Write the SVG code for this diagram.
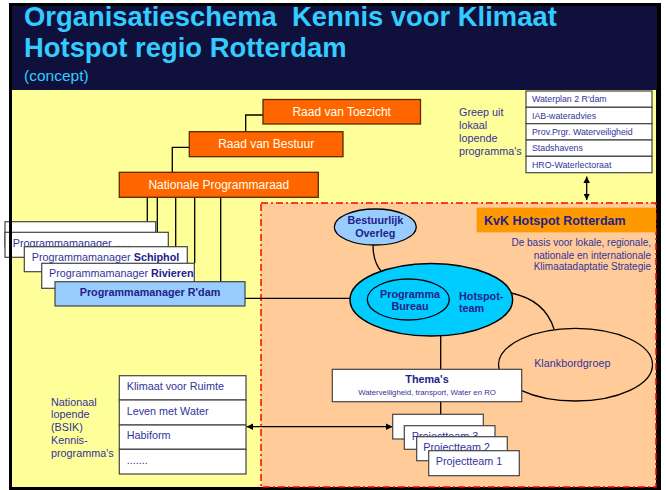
<svg xmlns="http://www.w3.org/2000/svg" width="666" height="490" viewBox="0 0 666 490">
<style>
text{font-family:"Liberation Sans",Arial,sans-serif;}
.t{fill:#333399;font-size:10.8px;}
.b{fill:#222288;font-size:10.8px;font-weight:bold;}
.org{fill:#ff6600;stroke:#5a2a00;stroke-width:1.3;}
.orgt{fill:#ffffee;font-size:12px;text-anchor:middle;}
.wb{fill:#ffffff;stroke:#444444;stroke-width:1.2;}
.ln{stroke:#000000;stroke-width:1.3;fill:none;}
.lst{font-size:8.8px;fill:#333399;}
</style>
<defs>
<marker id="ah" viewBox="0 0 10 10" refX="10" refY="5" markerWidth="5" markerHeight="5" orient="auto-start-reverse">
<path d="M0,0 L10,5 L0,10 z" fill="#000000"/>
</marker>
</defs>
<rect x="0" y="0" width="666" height="490" fill="#ffffff"/>
<rect x="9" y="3" width="652" height="487" fill="#000000"/>
<rect x="12" y="6" width="645" height="84" fill="#10103c"/>
<rect x="12" y="90" width="644" height="397" fill="#ffff99"/>
<g id="title">
<text x="24" y="26" font-size="27.4" font-weight="bold" fill="#33ccff" xml:space="preserve">Organisatieschema  Kennis voor Klimaat</text>
<text x="24" y="57" font-size="27.4" font-weight="bold" fill="#33ccff">Hotspot regio Rotterdam</text>
<text x="24" y="80.5" font-size="15.5" fill="#33ccff">(concept)</text>
</g>
<g id="kvk-region">
<rect x="261" y="203" width="395" height="284" fill="#ffcc99" stroke="#ff0000" stroke-width="1.5" stroke-dasharray="7 3 2 3"/>
</g>
<g id="connectors">
<path class="ln" d="M263,115 H245.7 V131.7"/>
<path class="ln" d="M189.3,147.3 H172.3 V172.3"/>
<line class="ln" x1="147.3" y1="197.3" x2="147.3" y2="221.7"/>
<line class="ln" x1="157.3" y1="197.3" x2="157.3" y2="232.3"/>
<line class="ln" x1="175.7" y1="197.3" x2="175.7" y2="246.7"/>
<line class="ln" x1="194.7" y1="197.3" x2="194.7" y2="263.3"/>
<line class="ln" x1="220.7" y1="197.3" x2="220.7" y2="281.7"/>
<line class="ln" x1="245" y1="298.3" x2="350" y2="298.3"/>
<path class="ln" stroke-width="1.8" d="M373,245 C373,258 376,265 381,271"/>
<path class="ln" stroke-width="1.8" d="M511,293 C535,298 548,310 554,329"/>
<line class="ln" x1="440.7" y1="335" x2="440.7" y2="369.3"/>
<line class="ln" x1="440.7" y1="401.7" x2="440.7" y2="414.3"/>
<line class="ln" x1="586.7" y1="176.5" x2="586.7" y2="200" marker-start="url(#ah)" marker-end="url(#ah)"/>
<line class="ln" x1="246.5" y1="426.7" x2="392.5" y2="426.7" marker-start="url(#ah)" marker-end="url(#ah)"/>
</g>
<g id="raad-van-toezicht">
<rect class="org" x="263" y="99.5" width="157.5" height="24.5"/>
<text class="orgt" x="341.7" y="116">Raad van Toezicht</text>
</g>
<g id="raad-van-bestuur">
<rect class="org" x="189.3" y="131.7" width="153.7" height="25"/>
<text class="orgt" x="266.2" y="148.4">Raad van Bestuur</text>
</g>
<g id="nationale-programmaraad">
<rect class="org" x="119.3" y="172.3" width="199" height="25"/>
<text class="orgt" x="218.8" y="189">Nationale Programmaraad</text>
</g>
<g id="pm-blank">
<rect class="wb" x="5" y="221.7" width="150.7" height="25"/>
</g>
<g id="pm-dots">
<rect class="wb" x="5" y="232.3" width="163.3" height="25"/>
<text class="t" x="12.7" y="247.3">Programmamanager .....</text>
</g>
<g id="pm-schiphol">
<rect class="wb" x="24.3" y="246.7" width="163" height="25"/>
<text class="t" x="31.7" y="261.2">Programmamanager <tspan font-weight="bold" fill="#222288">Schiphol</tspan></text>
</g>
<g id="pm-rivieren">
<rect class="wb" x="41.7" y="263.3" width="152.6" height="25"/>
<text class="t" x="49" y="276.6">Programmamanager <tspan font-weight="bold" fill="#222288">Rivieren</tspan></text>
</g>
<g id="pm-rdam">
<rect x="55" y="281.7" width="190" height="24.3" fill="#99ccff" stroke="#444444" stroke-width="1.2"/>
<text class="b" x="150" y="295.6" text-anchor="middle">Programmamanager R'dam</text>
</g>
<rect x="9" y="90" width="3" height="400" fill="#000000"/>
<g id="lokaal-label">
<text class="t" x="459" y="116">Greep uit</text>
<text class="t" x="459" y="129.3">lokaal</text>
<text class="t" x="459" y="142">lopende</text>
<text class="t" x="459" y="155">programma's</text>
</g>
<g id="lokaal-lijst">
<rect class="wb" x="526" y="91" width="126" height="16.3"/>
<rect class="wb" x="526" y="107.3" width="126" height="16.4"/>
<rect class="wb" x="526" y="123.7" width="126" height="16.3"/>
<rect class="wb" x="526" y="140" width="126" height="16.3"/>
<rect class="wb" x="526" y="156.3" width="126" height="16.4"/>
<text class="lst" x="532" y="102.3">Waterplan 2 R'dam</text>
<text class="lst" x="532" y="118.7">IAB-wateradvies</text>
<text class="lst" x="532" y="135">Prov.Prgr. Waterveiligheid</text>
<text class="lst" x="532" y="151.3">Stadshavens</text>
<text class="lst" x="532" y="167.7">HRO-Waterlectoraat</text>
</g>
<g id="kvk-title">
<rect x="476.7" y="207.7" width="179.3" height="24.6" fill="#ff9900"/>
<text x="484" y="224.5" font-size="12.5" font-weight="bold" fill="#222288">KvK Hotspot Rotterdam</text>
<text x="651" y="246.3" font-size="10" fill="#333399" text-anchor="end">De basis voor lokale, regionale,</text>
<text x="651" y="258.6" font-size="10" fill="#333399" text-anchor="end">nationale en internationale</text>
<text x="651" y="270.3" font-size="10" fill="#333399" text-anchor="end">Klimaatadaptatie Strategie</text>
</g>
<g id="bestuurlijk-overleg">
<ellipse cx="375.3" cy="227" rx="41" ry="18" fill="#99ccff" stroke="#000000" stroke-width="1.3"/>
<text class="b" x="375.3" y="223.8" text-anchor="middle">Bestuurlijk</text>
<text class="b" x="375.3" y="237" text-anchor="middle">Overleg</text>
</g>
<g id="hotspot-team">
<ellipse cx="431.3" cy="299.7" rx="81.3" ry="36.3" fill="#00ccff" stroke="#000000" stroke-width="1.5"/>
<text class="b" x="459" y="300">Hotspot-</text>
<text class="b" x="459" y="312.2">team</text>
</g>
<g id="programma-bureau">
<ellipse cx="408.3" cy="299.5" rx="41" ry="20.5" fill="#00ccff" stroke="#000000" stroke-width="1.3"/>
<text class="b" x="410" y="298.2" text-anchor="middle">Programma</text>
<text class="b" x="410" y="309.6" text-anchor="middle">Bureau</text>
</g>
<g id="klankbordgroep">
<ellipse cx="575.5" cy="364.7" rx="77" ry="36.3" fill="none" stroke="#000000" stroke-width="1.3"/>
<text class="t" x="572.3" y="367.2" text-anchor="middle">Klankbordgroep</text>
</g>
<g id="themas">
<rect class="wb" x="332.3" y="369.3" width="189.4" height="32.4"/>
<text class="b" x="427" y="383" text-anchor="middle">Thema's</text>
<text x="427" y="394.5" font-size="7.8" fill="#333399" text-anchor="middle">Waterveiligheid, transport, Water en RO</text>
</g>
<g id="projectteams">
<rect class="wb" x="392.7" y="414.3" width="90.6" height="24.7"/>
<rect class="wb" x="404.3" y="425.7" width="90.7" height="23.6"/>
<text class="t" x="411.7" y="440">Projectteam 3</text>
<rect class="wb" x="416.7" y="436.7" width="90.6" height="24"/>
<text class="t" x="423.3" y="451.3">Projectteam 2</text>
<rect class="wb" x="428.7" y="450.7" width="90.6" height="25"/>
<text class="t" x="435.7" y="465">Projectteam 1</text>
</g>
<g id="nationaal-label">
<text class="t" x="51" y="405.5">Nationaal</text>
<text class="t" x="51" y="418.2">lopende</text>
<text class="t" x="51" y="430.7">(BSIK)</text>
<text class="t" x="51" y="443.9">Kennis-</text>
<text class="t" x="51" y="457.2">programma's</text>
</g>
<g id="kennis-lijst">
<rect class="wb" x="119.3" y="375.7" width="126.7" height="24.3"/>
<rect class="wb" x="119.3" y="400" width="126.7" height="25"/>
<rect class="wb" x="119.3" y="425" width="126.7" height="24.3"/>
<rect class="wb" x="119.3" y="449.3" width="126.7" height="24.7"/>
<text class="t" x="126.7" y="390">Klimaat voor Ruimte</text>
<text class="t" x="126.7" y="415">Leven met Water</text>
<text class="t" x="126.7" y="439">Habiform</text>
<text class="t" x="126.7" y="464">.......</text>
</g>
</svg>
